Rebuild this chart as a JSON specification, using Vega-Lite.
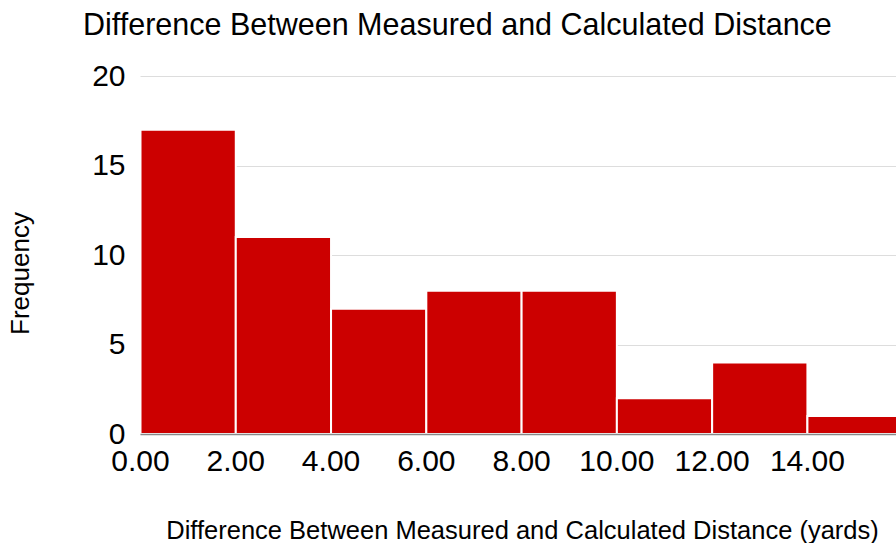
{
  "$schema": "https://vega.github.io/schema/vega-lite/v6.json",
  "width": 756,
  "height": 358,
  "autosize": {"type": "none"},
  "padding": {"left": 140, "top": 76, "right": 0, "bottom": 109},
  "background": "white",
  "title": {
    "text": "Difference Between Measured and Calculated Distance",
    "anchor": "start",
    "frame": "group",
    "dx": -57,
    "dy": 43,
    "baseline": "alphabetic",
    "offset": 39,
    "fontSize": 30.5,
    "font": "Liberation Sans",
    "fontWeight": "normal",
    "color": "#000000"
  },
  "data": {
    "values": [
      {"start": 0, "end": 2, "count": 17},
      {"start": 2, "end": 4, "count": 11},
      {"start": 4, "end": 6, "count": 7},
      {"start": 6, "end": 8, "count": 8},
      {"start": 8, "end": 10, "count": 8},
      {"start": 10, "end": 12, "count": 2},
      {"start": 12, "end": 14, "count": 4},
      {"start": 14, "end": 16, "count": 1}
    ]
  },
  "mark": {"type": "bar", "color": "#cc0000", "stroke": "white", "strokeWidth": 2, "binSpacing": 0, "clip": true},
  "encoding": {
    "x": {
      "field": "start",
      "type": "quantitative",
      "bin": "binned",
      "scale": {"domain": [0, 15.87], "nice": false, "zero": false},
      "axis": {
        "title": "Difference Between Measured and Calculated Distance (yards)",
        "values": [0, 2, 4, 6, 8, 10, 12, 14],
        "format": ".2f",
        "grid": false,
        "ticks": false,
        "labelFlush": false,
        "labelOverlap": false,
        "domainColor": "#888888",
        "domainWidth": 1.5,
        "labelPadding": 12,
        "labelFontSize": 30,
        "titleFontSize": 25.5,
        "titleX": 382,
        "titleY": 104,
        "titleBaseline": "alphabetic",
        "zindex": 1
      }
    },
    "x2": {"field": "end"},
    "y": {
      "field": "count",
      "type": "quantitative",
      "scale": {"domain": [0, 20], "nice": false},
      "axis": {
        "title": "Frequency",
        "values": [0, 5, 10, 15, 20],
        "domain": false,
        "ticks": false,
        "gridColor": "#dddddd",
        "labelPadding": 15,
        "labelFontSize": 30,
        "titleFontSize": 26,
        "titleX": -112,
        "titleY": 197,
        "titleBaseline": "alphabetic",
        "titleAlign": "center"
      }
    }
  },
  "config": {
    "view": {"stroke": null},
    "axis": {
      "labelFont": "Liberation Sans",
      "titleFont": "Liberation Sans",
      "labelColor": "#000000",
      "titleColor": "#000000",
      "titleFontWeight": "normal"
    }
  }
}
